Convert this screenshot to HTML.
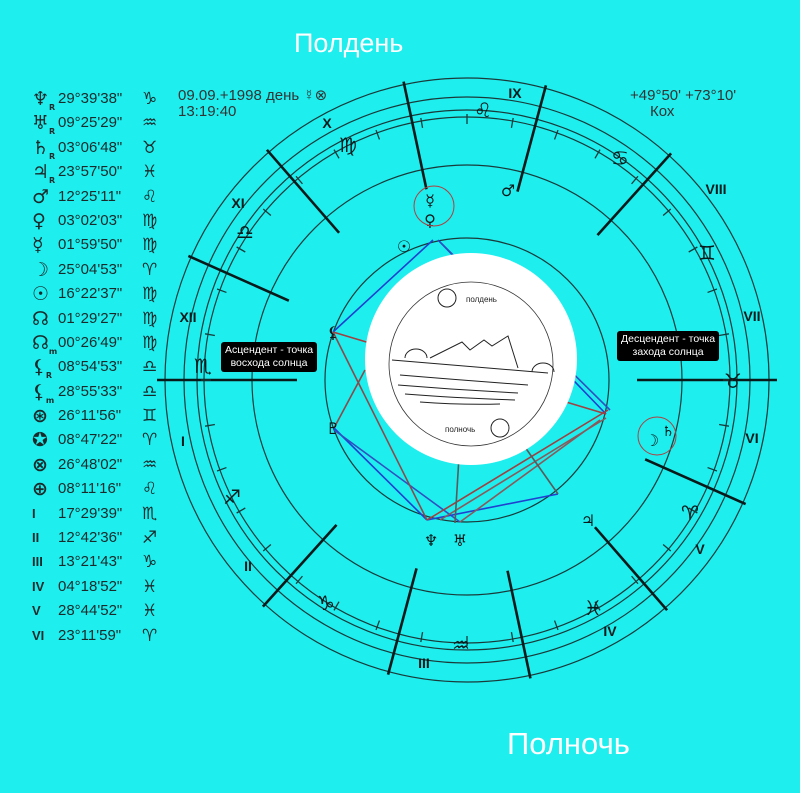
<!DOCTYPE html>
<html><head><meta charset="utf-8"><style>
html,body{margin:0;padding:0;background:#1eeeee;}
body{width:800px;height:793px;position:relative;overflow:hidden;font-family:"Liberation Sans","DejaVu Sans",sans-serif;}
.t{position:absolute;color:#fff;}
.tbl{position:absolute;left:28px;top:87px;font-size:15px;color:#1a2a2a;}
.r{height:24.4px;line-height:24.4px;white-space:nowrap;position:relative;}
.r span{position:absolute;}
.r span.g{font-size:19px;font-weight:bold;font-family:"DejaVu Sans",sans-serif;}
.r span.s{font-size:17px;font-family:"DejaVu Sans",sans-serif;}
.lab{position:absolute;background:#000;color:#fff;font-size:10.5px;line-height:13px;text-align:center;border-radius:3px;padding:2px 4px;}
</style></head><body>
<div class="t" style="left:294px;top:28px;font-size:27px;">Полдень</div>
<div class="t" style="left:507px;top:726px;font-size:31px;">Полночь</div>

<svg width="800" height="793" style="position:absolute;left:0;top:0" font-family="Liberation Sans, DejaVu Sans, sans-serif">
<g fill="none" stroke="#1a3a3a" stroke-width="1.2">
<circle cx="467" cy="380" r="302"/>
<circle cx="467" cy="380" r="283"/>
<circle cx="467" cy="380" r="270"/>
<circle cx="467" cy="380" r="263"/>
<circle cx="467" cy="380" r="215"/>
<circle cx="467" cy="380" r="142"/>
</g>
<g stroke="#0a1a1a" stroke-width="2.6" id="cusps"></g>
<g stroke="#1a3a3a" stroke-width="1.3" id="ticks"></g>
<g stroke-width="1.6">
<line x1="433" y1="240" x2="333" y2="332" stroke="#2040d0"/>
<line x1="438" y1="240" x2="606" y2="414" stroke="#2040d0"/>
<line x1="440" y1="242" x2="610" y2="410" stroke="#3050c0"/>
<line x1="334" y1="428" x2="427" y2="520" stroke="#2040d0"/>
<line x1="334" y1="430" x2="460" y2="522" stroke="#3050c0"/>
<line x1="427" y1="520" x2="558" y2="494" stroke="#2040d0"/>
<line x1="333" y1="332" x2="427" y2="520" stroke="#8a4a4a"/>
<line x1="333" y1="332" x2="606" y2="414" stroke="#a04040"/>
<line x1="427" y1="520" x2="608" y2="410" stroke="#a04040"/>
<line x1="440" y1="520" x2="606" y2="418" stroke="#8a5a5a"/>
<line x1="460" y1="522" x2="600" y2="420" stroke="#8a5a5a"/>
<line x1="334" y1="428" x2="365" y2="370" stroke="#8a4a4a"/>
<line x1="455" y1="523" x2="460" y2="440" stroke="#5a5a5a"/>
<line x1="558" y1="494" x2="520" y2="440" stroke="#5a5a5a"/>
</g>
<circle cx="471" cy="359" r="106" fill="#fff"/>
<circle cx="471" cy="364" r="82" fill="none" stroke="#333" stroke-width="0.8"/>
<g stroke="#222" stroke-width="1" fill="none">
<circle cx="447" cy="298" r="9"/><circle cx="500" cy="428" r="9"/>
<path d="M392 360 L548 373"/><path d="M405 358 a11 9 0 0 1 22 0"/><path d="M532 372 a11 9 0 0 1 22 0"/>
<path d="M430 358 L462 342 L470 350 L484 340 L492 346 L508 336 L518 368"/>
<path d="M400 375 q60 5 128 10 M398 385 q60 5 120 8 M405 394 q50 4 110 6 M420 402 q40 3 80 2"/>
</g>
<text x="466" y="302" font-size="8" fill="#222">полдень</text>
<text x="445" y="432" font-size="8" fill="#222">полночь</text>
<g fill="#0a1a1a" font-weight="bold" font-size="14" text-anchor="middle">
<text x="515" y="98">IX</text><text x="327" y="128">X</text><text x="238" y="208">XI</text>
<text x="188" y="322">XII</text><text x="183" y="446">I</text><text x="248" y="571">II</text>
<text x="424" y="668">III</text><text x="610" y="636">IV</text><text x="700" y="554">V</text>
<text x="752" y="443">VI</text><text x="752" y="321">VII</text><text x="716" y="194">VIII</text>
</g>
<g fill="#0a1a1a" font-size="20" text-anchor="middle" font-family="DejaVu Sans, sans-serif">
<text x="483" y="117">♌</text><text x="348" y="152">♍</text><text x="245" y="239">♎</text>
<text x="203" y="373">♏</text><text x="232" y="504">♐</text><text x="326" y="610">♑</text>
<text x="461" y="652">♒</text><text x="593" y="615">♓</text><text x="690" y="520">♈</text>
<text x="733" y="388">♉</text><text x="707" y="260">♊</text><text x="620" y="165">♋</text>
<text x="404" y="252" font-size="16">☉</text><text x="430" y="206" font-size="16">☿</text>
<text x="430" y="226" font-size="16">♀</text><text x="508" y="196" font-size="16">♂</text>
<text x="333" y="338" font-size="16">⚸</text><text x="333" y="434" font-size="16">♇</text>
<text x="431" y="546" font-size="16">♆</text><text x="460" y="546" font-size="16">♅</text>
<text x="588" y="526" font-size="16">♃</text><text x="652" y="446" font-size="16">☽</text>
<text x="668" y="436" font-size="14">♄</text>
</g>
<circle cx="434" cy="206" r="20" fill="none" stroke="#b04040" stroke-width="1"/>
<circle cx="657" cy="436" r="19" fill="none" stroke="#b04040" stroke-width="1"/>
<g fill="#333" font-size="15">
<text x="178" y="100">09.09.+1998 день ☿⊗</text><text x="178" y="116">13:19:40</text>
<text x="630" y="100">+49°50' +73°10'</text><text x="650" y="116">Кох</text>
</g>
</svg>
<script>
(function(){
var cx=467,cy=380,ns="http://www.w3.org/2000/svg";
var g=document.getElementById('cusps');
var angs=[180,156,131,102,75,48,0,336,311,282,255,228];
angs.forEach(function(a,i){var r=a*Math.PI/180,c=Math.cos(r),s=-Math.sin(r);
var r1=(a==180||a==0)?170:195,r2=(a==180||a==0)?310:305;
var l=document.createElementNS(ns,'line');
l.setAttribute('x1',cx+c*r1);l.setAttribute('y1',cy+s*r1);l.setAttribute('x2',cx+c*r2);l.setAttribute('y2',cy+s*r2);g.appendChild(l);});
var t=document.getElementById('ticks');
for(var a=0;a<360;a+=10){var r=a*Math.PI/180,c=Math.cos(r),s=-Math.sin(r);
var l=document.createElementNS(ns,'line');
l.setAttribute('x1',cx+c*256);l.setAttribute('y1',cy+s*256);l.setAttribute('x2',cx+c*266);l.setAttribute('y2',cy+s*266);t.appendChild(l);}
})();
</script>
<div class="lab" style="left:221px;top:342px;">Асцендент - точка<br>восхода солнца</div>
<div class="lab" style="left:617px;top:331px;">Десцендент - точка<br>захода солнца</div>
<div class="tbl">
<div class="r"><span class="g" style="left:4px">♆<sub style="font-size:8px">R</sub></span><span style="left:30px">29°39'38"</span><span class="s" style="left:114px">♑</span></div>
<div class="r"><span class="g" style="left:4px">♅<sub style="font-size:8px">R</sub></span><span style="left:30px">09°25'29"</span><span class="s" style="left:114px">♒</span></div>
<div class="r"><span class="g" style="left:4px">♄<sub style="font-size:8px">R</sub></span><span style="left:30px">03°06'48"</span><span class="s" style="left:114px">♉</span></div>
<div class="r"><span class="g" style="left:4px">♃<sub style="font-size:8px">R</sub></span><span style="left:30px">23°57'50"</span><span class="s" style="left:114px">♓</span></div>
<div class="r"><span class="g" style="left:4px">♂</span><span style="left:30px">12°25'11"</span><span class="s" style="left:114px">♌</span></div>
<div class="r"><span class="g" style="left:4px">♀</span><span style="left:30px">03°02'03"</span><span class="s" style="left:114px">♍</span></div>
<div class="r"><span class="g" style="left:4px">☿</span><span style="left:30px">01°59'50"</span><span class="s" style="left:114px">♍</span></div>
<div class="r"><span class="g" style="left:4px">☽</span><span style="left:30px">25°04'53"</span><span class="s" style="left:114px">♈</span></div>
<div class="r"><span class="g" style="left:4px">☉</span><span style="left:30px">16°22'37"</span><span class="s" style="left:114px">♍</span></div>
<div class="r"><span class="g" style="left:4px">☊</span><span style="left:30px">01°29'27"</span><span class="s" style="left:114px">♍</span></div>
<div class="r"><span class="g" style="left:4px">☊<sub style="font-size:8px">m</sub></span><span style="left:30px">00°26'49"</span><span class="s" style="left:114px">♍</span></div>
<div class="r"><span class="g" style="left:4px">⚸<sub style="font-size:8px">R</sub></span><span style="left:30px">08°54'53"</span><span class="s" style="left:114px">♎</span></div>
<div class="r"><span class="g" style="left:4px">⚸<sub style="font-size:8px">m</sub></span><span style="left:30px">28°55'33"</span><span class="s" style="left:114px">♎</span></div>
<div class="r"><span class="g" style="left:4px">⊛</span><span style="left:30px">26°11'56"</span><span class="s" style="left:114px">♊</span></div>
<div class="r"><span class="g" style="left:4px">✪</span><span style="left:30px">08°47'22"</span><span class="s" style="left:114px">♈</span></div>
<div class="r"><span class="g" style="left:4px">⊗</span><span style="left:30px">26°48'02"</span><span class="s" style="left:114px">♒</span></div>
<div class="r"><span class="g" style="left:4px">⊕</span><span style="left:30px">08°11'16"</span><span class="s" style="left:114px">♌</span></div>
<div class="r"><span style="left:4px;font-weight:bold;font-size:13px">I</span><span style="left:30px">17°29'39"</span><span class="s" style="left:114px">♏</span></div>
<div class="r"><span style="left:4px;font-weight:bold;font-size:13px">II</span><span style="left:30px">12°42'36"</span><span class="s" style="left:114px">♐</span></div>
<div class="r"><span style="left:4px;font-weight:bold;font-size:13px">III</span><span style="left:30px">13°21'43"</span><span class="s" style="left:114px">♑</span></div>
<div class="r"><span style="left:4px;font-weight:bold;font-size:13px">IV</span><span style="left:30px">04°18'52"</span><span class="s" style="left:114px">♓</span></div>
<div class="r"><span style="left:4px;font-weight:bold;font-size:13px">V</span><span style="left:30px">28°44'52"</span><span class="s" style="left:114px">♓</span></div>
<div class="r"><span style="left:4px;font-weight:bold;font-size:13px">VI</span><span style="left:30px">23°11'59"</span><span class="s" style="left:114px">♈</span></div>
</div>
</body></html>
